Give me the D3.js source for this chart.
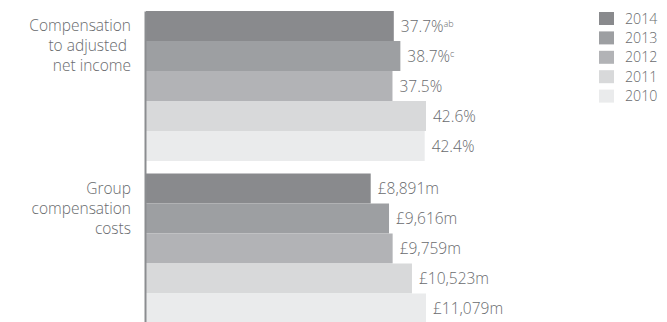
<!DOCTYPE html>
<html>
<head>
<meta charset="utf-8">
<script src="https://cdn.jsdelivr.net/npm/d3@7"></script>
<style>
  html, body { margin: 0; padding: 0; background: #fff; }
  svg { display: block; font-family: "Open Sans", "Noto Sans", sans-serif; }
</style>
</head>
<body>
<svg id="chart" width="667" height="322"></svg>
<script>
// Measures, one per group of bars
const categories = ["comp", "costs"];
const categoryLabels = [["Compensation", "to adjusted ", "net income"], ["Group", "compensation", "costs"]];
const years = ["2014", "2013", "2012", "2011", "2010"];
const compRatio = [37.7, 38.7, 37.5, 42.6, 42.4];
const groupCosts = [8891, 9616, 9759, 10523, 11079];
const ratioLabels = ["37.7%", "38.7%", "37.5%", "42.6%", "42.4%"];
const ratioNotes = ["ab", "c", "", "", ""];
const costLabels = ["£8,891m", "£9,616m", "£9,759m", "£10,523m", "£11,079m"];
const yearColors = ["#898a8d", "#9d9fa2", "#b2b3b6", "#d8d9da", "#eaebec"];

const series = [
  { values: compRatio, labels: ratioLabels, notes: ratioNotes },
  { values: groupCosts, labels: costLabels, notes: ["", "", "", "", ""] }
];

const svg = d3.select("#chart");
const textColor = "#696b6e";
const fontSize = 15.5;
const x0 = 146;

const yGroup = d3.scaleBand().domain(categories).range([11, 336]).paddingInner(0).paddingOuter(0);
const yYear = d3.scaleBand().domain(years).range([0, 150]);
const color = d3.scaleOrdinal().domain(years).range(yearColors);

// Bars: each group scaled against its own maximum
categories.forEach((cat, gi) => {
  const s = series[gi];
  const x = d3.scaleLinear().domain([0, d3.max(s.values)]).range([0, 280]);
  const rows = years.map((yr, i) => ({ yr, v: s.values[i], label: s.labels[i], note: s.notes[i] }));
  const g = svg.append("g").attr("transform", `translate(0,${yGroup(cat)})`);

  g.selectAll("rect").data(rows).join("rect")
    .attr("x", x0)
    .attr("y", d => yYear(d.yr))
    .attr("width", d => x(d.v))
    .attr("height", yYear.bandwidth())
    .attr("fill", d => color(d.yr));

  const t = g.selectAll("text.val").data(rows).join("text")
    .attr("class", "val")
    .attr("x", d => x0 + x(d.v) + 7)
    .attr("y", d => yYear(d.yr) + yYear.bandwidth() / 2)
    .attr("dy", "0.36em")
    .attr("fill", textColor)
    .attr("font-size", fontSize)
    .attr("font-weight", 300);
  t.append("tspan").text(d => d.label);
  t.filter(d => d.note).append("tspan")
    .attr("font-size", 9)
    .attr("dy", "-0.55em")
    .text(d => d.note);

  // Category label, right aligned beside the axis
  const lab = svg.append("text")
    .attr("x", 131)
    .attr("y", yGroup(cat) + 20)
    .attr("text-anchor", "end")
    .attr("fill", textColor)
    .attr("font-size", fontSize)
    .attr("font-weight", 300)
    .style("white-space", "pre");
  categoryLabels[gi].forEach((line, li) => {
    lab.append("tspan").attr("x", 131).attr("y", yGroup(cat) + 20 + li * 20).text(line);
  });
});

// Vertical baseline
const axis = svg.append("g")
  .attr("transform", `translate(${x0 - 1},0)`)
  .call(d3.axisLeft(yGroup).tickSize(0).tickSizeOuter(0).tickFormat(""));
axis.select(".domain").attr("stroke", "#8b8d90").attr("stroke-width", 2);

// Legend
const legend = svg.append("g").attr("transform", "translate(599,12)");
const item = legend.selectAll("g").data(years).join("g")
  .attr("transform", (d, i) => `translate(0,${i * 19.4})`);
item.append("rect").attr("width", 15).attr("height", 13).attr("fill", d => color(d));
item.append("text")
  .attr("x", 26).attr("y", 6.5).attr("dy", "0.36em")
  .attr("fill", textColor)
  .attr("font-size", 14.2)
  .attr("font-weight", 300)
  .text(d => d);
</script>
</body>
</html>
